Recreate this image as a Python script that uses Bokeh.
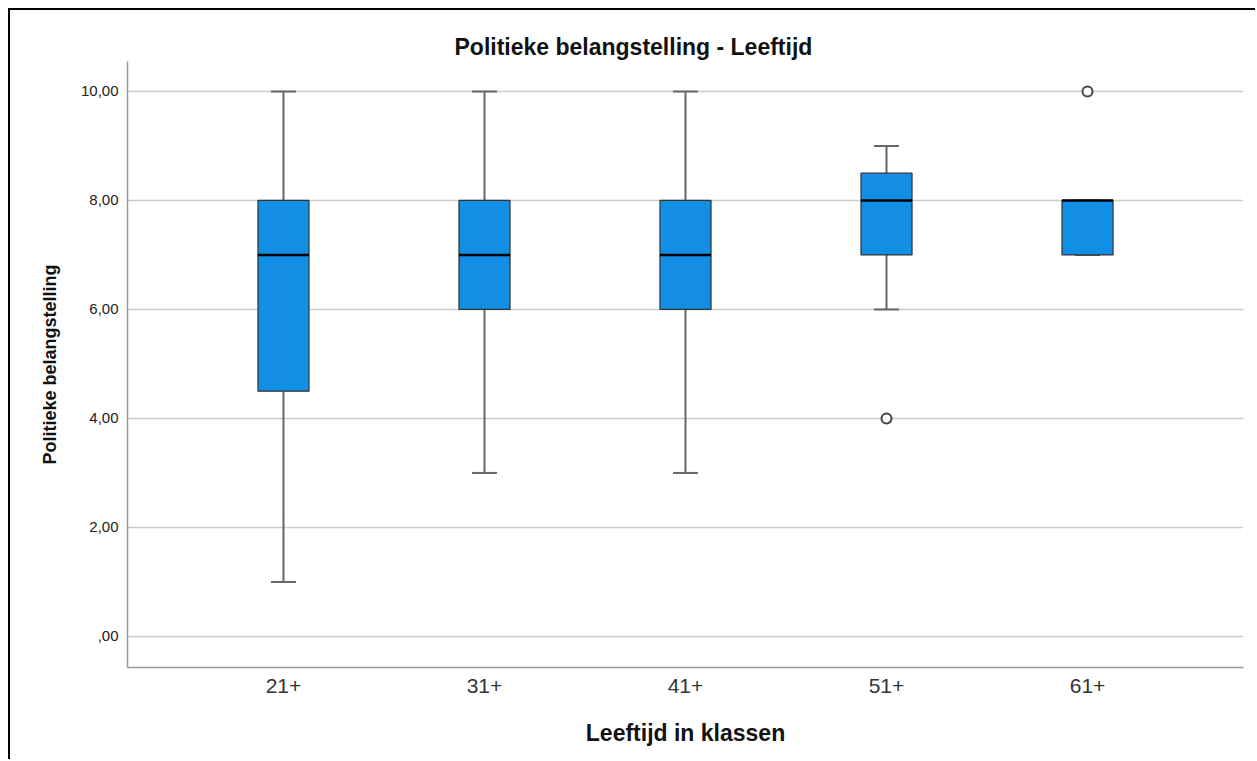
from bokeh.plotting import figure
from bokeh.models import FixedTicker, Title
from bokeh.embed import file_html
from bokeh.resources import INLINE

# Data
categories = ["21+", "31+", "41+", "51+", "61+"]
positions = [1, 2, 3, 4, 5]
lower_whisker = [1.0, 3.0, 3.0, 6.0, 7.0]
q1 = [4.5, 6.0, 6.0, 7.0, 7.0]
median = [7.0, 7.0, 7.0, 8.0, 8.0]
q3 = [8.0, 8.0, 8.0, 8.5, 8.0]
upper_whisker = [10.0, 10.0, 10.0, 9.0, 8.0]
outlier_pos = [4, 5]
outlier_val = [4.0, 10.0]
y_ticks = [0, 2, 4, 6, 8, 10]
y_tick_labels = [",00", "2,00", "4,00", "6,00", "8,00", "10,00"]

FONT = "Liberation Sans"
BOX_W = 0.254
CAP_W = 0.124
BOX_FILL = "#128fe4"

p = figure(width=1247, height=751, output_backend="svg", toolbar_location=None,
           x_range=(0.224, 5.776), y_range=(-0.57, 10.55),
           min_border_left=117, min_border_right=14, min_border_top=51, min_border_bottom=94)
p.styles = {"border-left": "2px solid black", "border-top": "2px solid black",
            "margin-left": "8px", "margin-top": "8px"}
p.outline_line_color = None
p.background_fill_color = "white"
p.border_fill_color = "white"

# Title centered on whole figure (left aligned with offset from frame left)
p.title = Title(text="Politieke belangstelling - Leeftijd", align="left", offset=327,
                text_font=FONT, text_font_size="23px", text_font_style="bold",
                text_color="#111111", standoff=3)

# Axes
p.xaxis.ticker = FixedTicker(ticks=positions)
p.xaxis.major_label_overrides = {pos: lab for pos, lab in zip(positions, categories)}
p.yaxis.ticker = FixedTicker(ticks=y_ticks)
p.yaxis.major_label_overrides = {t: lab for t, lab in zip(y_ticks, y_tick_labels)}

for ax in (p.xaxis, p.yaxis):
    ax.axis_line_color = "#999999"
    ax.axis_line_width = 1.5
    ax.major_tick_in = 0
    ax.major_tick_out = 0
    ax.minor_tick_in = 0
    ax.minor_tick_out = 0
    ax.major_label_text_font = FONT
    ax.axis_label_text_font = FONT
    ax.axis_label_text_font_style = "bold"
    ax.axis_label_text_color = "#111111"

p.xaxis.axis_label = "Leeftijd in klassen"
p.xaxis.axis_label_text_font_size = "23px"
p.xaxis.major_label_text_font_size = "21px"
p.xaxis.major_label_text_color = "#333333"
p.xaxis.major_label_standoff = 11
p.xaxis.axis_label_standoff = 24

p.yaxis.axis_label = "Politieke belangstelling"
p.yaxis.axis_label_text_font_size = "18px"
p.yaxis.major_label_text_font_size = "15px"
p.yaxis.major_label_text_color = "#222222"
p.yaxis.major_label_standoff = 9
p.yaxis.axis_label_standoff = 18

p.xgrid.grid_line_color = None
p.ygrid.grid_line_color = "#cccccc"
p.ygrid.grid_line_width = 1.5

# Whiskers
p.segment(x0=positions, x1=positions, y0=q3, y1=upper_whisker, line_color="#666666", line_width=2)
p.segment(x0=positions, x1=positions, y0=q1, y1=lower_whisker, line_color="#666666", line_width=2)
cap_l = [x - CAP_W / 2 for x in positions]
cap_r = [x + CAP_W / 2 for x in positions]
p.segment(x0=cap_l, x1=cap_r, y0=upper_whisker, y1=upper_whisker, line_color="#666666", line_width=2)
p.segment(x0=cap_l, x1=cap_r, y0=lower_whisker, y1=lower_whisker, line_color="#666666", line_width=2)

# Boxes
p.vbar(x=positions, width=BOX_W, bottom=q1, top=q3, fill_color=BOX_FILL,
       line_color="#333333", line_width=1.2)

# Medians
box_l = [x - BOX_W / 2 for x in positions]
box_r = [x + BOX_W / 2 for x in positions]
p.segment(x0=box_l, x1=box_r, y0=median, y1=median, line_color="black", line_width=2.5)

# Outliers
p.scatter(x=outlier_pos, y=outlier_val, size=10, marker="circle",
          fill_color="white", line_color="#444444", line_width=2)

open("out.html", "w").write(file_html(p, INLINE))
